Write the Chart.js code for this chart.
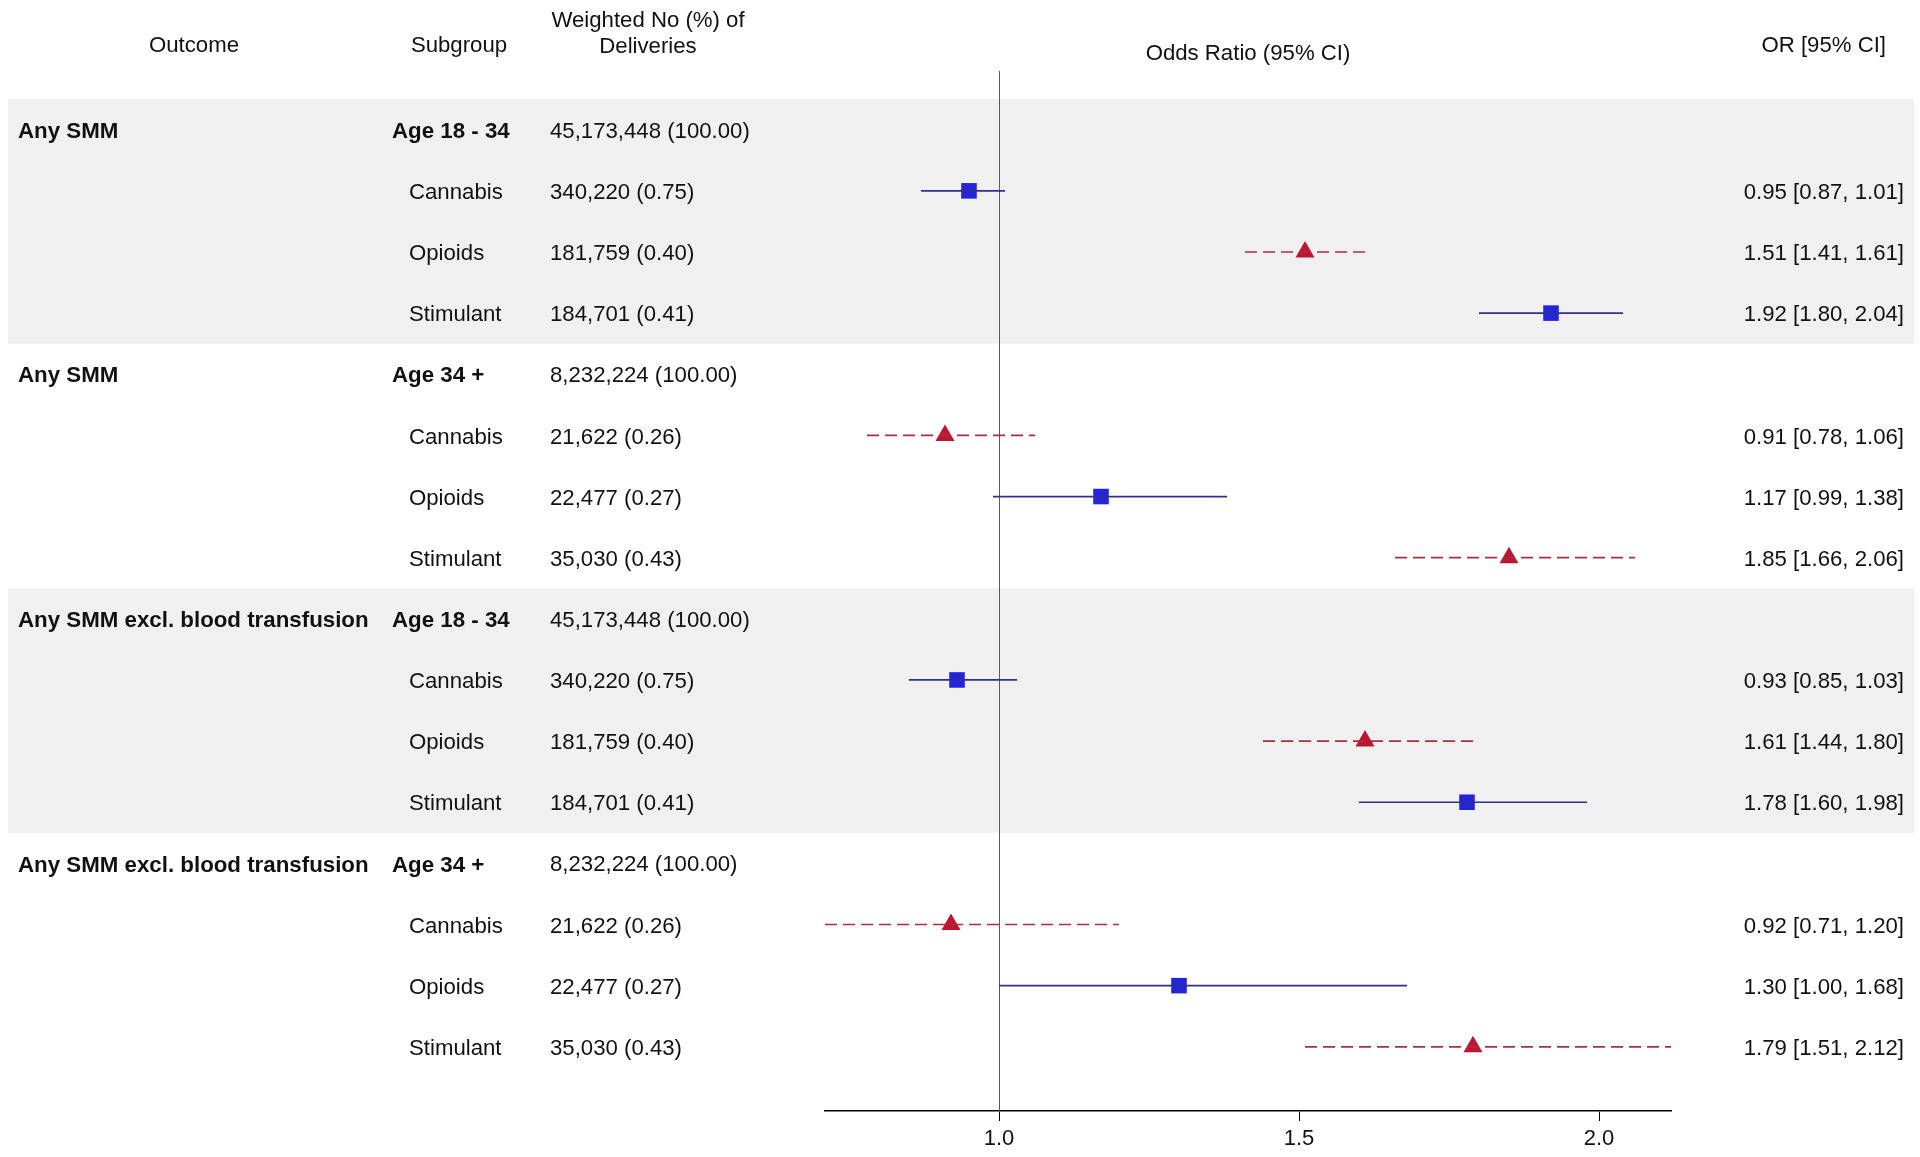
<!DOCTYPE html>
<html>
<head>
<meta charset="utf-8">
<script src="https://cdn.jsdelivr.net/npm/chart.js@4.4.1/dist/chart.umd.min.js"></script>
<style>
    html, body { margin: 0; padding: 0; background: #fff; }
    #wrap { width: 1920px; height: 1157px; position: relative; }
</style>
</head>
<body>
<div id="wrap"><canvas id="forestChart"></canvas></div>
<script>
"use strict";

// rows of the table, top to bottom
const outcomeLabels = [
    "Any SMM", "", "", "",
    "Any SMM", "", "", "",
    "Any SMM excl. blood transfusion", "", "", "",
    "Any SMM excl. blood transfusion", "", "", "",
];
const subgroupLabels = [
    "Age 18 - 34", "Cannabis", "Opioids", "Stimulant",
    "Age 34 +", "Cannabis", "Opioids", "Stimulant",
    "Age 18 - 34", "Cannabis", "Opioids", "Stimulant",
    "Age 34 +", "Cannabis", "Opioids", "Stimulant",
];
const deliveries = [
    "45,173,448 (100.00)", "340,220 (0.75)", "181,759 (0.40)", "184,701 (0.41)",
    "8,232,224 (100.00)", "21,622 (0.26)", "22,477 (0.27)", "35,030 (0.43)",
    "45,173,448 (100.00)", "340,220 (0.75)", "181,759 (0.40)", "184,701 (0.41)",
    "8,232,224 (100.00)", "21,622 (0.26)", "22,477 (0.27)", "35,030 (0.43)",
];
const oddsRatio = [null, 0.95, 1.51, 1.92, null, 0.91, 1.17, 1.85, null, 0.93, 1.61, 1.78, null, 0.92, 1.30, 1.79];
const ciLower = [null, 0.87, 1.41, 1.80, null, 0.78, 0.99, 1.66, null, 0.85, 1.44, 1.60, null, 0.71, 1.00, 1.51];
const ciUpper = [null, 1.01, 1.61, 2.04, null, 1.06, 1.38, 2.06, null, 1.03, 1.80, 1.98, null, 1.20, 1.68, 2.12];
const markerType = ["", "square", "triangle", "square", "", "triangle", "square", "triangle",
    "", "square", "triangle", "square", "", "triangle", "square", "triangle"];
const shadedRows = [[1, 4], [9, 12]];
const xTicks = [1.0, 1.5, 2.0];

const colors = {
    square: "#2424dc",
    squareLine: "#30308a",
    triangle: "#be1530",
    triangleLine: "#a8303e",
    band: "#f0f0f0",
    text: "#111111",
    refLine: "#5a5a5a",
};

const fontReg = "22.2px 'Liberation Sans', Arial, sans-serif";
const fontBold = "bold 22.3px 'Liberation Sans', Arial, sans-serif";

// whiskers: one line dataset per marker type, gaps split the segments
function ciData(type) {
    const out = [];
    oddsRatio.forEach((v, i) => {
        if (v === null || markerType[i] !== type) return;
        out.push({ x: ciLower[i], y: i + 1 });
        out.push({ x: ciUpper[i], y: i + 1 });
        out.push({ x: ciUpper[i], y: null });
    });
    return out;
}
function pointData(type) {
    const out = [];
    oddsRatio.forEach((v, i) => {
        if (v !== null && markerType[i] === type) out.push({ x: v, y: i + 1 });
    });
    return out;
}

const tablePlugin = {
    id: "tablePlugin",
    beforeDraw(chart) {
        const ctx = chart.ctx;
        const y = chart.scales.y;
        ctx.save();
        ctx.fillStyle = colors.band;
        shadedRows.forEach(([a, b]) => {
            const top = y.getPixelForValue(a - 0.5);
            const bot = y.getPixelForValue(b + 0.5);
            ctx.fillRect(8, top, 1906, bot - top);
        });
        ctx.restore();
    },
    beforeDatasetsDraw(chart) {
        const ctx = chart.ctx;
        const x = chart.scales.x;
        const area = chart.chartArea;
        ctx.save();
        ctx.strokeStyle = colors.refLine;
        ctx.lineWidth = 1;
        const px = Math.round(x.getPixelForValue(1)) + 0.5;
        ctx.beginPath();
        ctx.moveTo(px, area.top);
        ctx.lineTo(px, area.bottom);
        ctx.stroke();
        ctx.restore();
    },
    afterDraw(chart) {
        const ctx = chart.ctx;
        const y = chart.scales.y;
        const area = chart.chartArea;
        ctx.save();
        ctx.fillStyle = colors.text;
        ctx.textBaseline = "middle";

        // column headers
        ctx.font = fontReg;
        ctx.textAlign = "center";
        ctx.fillText("Outcome", 194, 46);
        ctx.fillText("Subgroup", 459, 46);
        ctx.fillText("Weighted No (%) of", 648, 21);
        ctx.fillText("Deliveries", 648, 47);
        ctx.fillText("Odds Ratio (95% CI)", (area.left + area.right) / 2, 54);
        ctx.textAlign = "right";
        ctx.fillText("OR [95% CI]", 1886, 46);

        for (let i = 0; i < subgroupLabels.length; i++) {
            const py = y.getPixelForValue(i + 1) + 2;
            const isHead = outcomeLabels[i] !== "";
            ctx.textAlign = "left";
            if (isHead) {
                ctx.font = fontBold;
                ctx.fillText(outcomeLabels[i], 18, py);
                ctx.fillText(subgroupLabels[i], 392, py);
            } else {
                ctx.font = fontReg;
                ctx.fillText(subgroupLabels[i], 409, py);
            }
            ctx.font = fontReg;
            ctx.fillText(deliveries[i], 550, py);
            if (oddsRatio[i] !== null) {
                ctx.textAlign = "right";
                const txt = oddsRatio[i].toFixed(2) + " [" + ciLower[i].toFixed(2) + ", " + ciUpper[i].toFixed(2) + "]";
                ctx.fillText(txt, 1904, py);
            }
        }
        ctx.restore();
    },
};

const ctx = document.getElementById("forestChart").getContext("2d");
const forestChart = new Chart(ctx, {
    type: "line",
    data: {
        datasets: [
            {
                data: ciData("square"),
                borderColor: colors.squareLine,
                borderWidth: 1.7,
                pointRadius: 0,
                spanGaps: false,
                fill: false,
            },
            {
                data: ciData("triangle"),
                borderColor: colors.triangleLine,
                borderWidth: 1.7,
                borderDash: [12, 6],
                pointRadius: 0,
                spanGaps: false,
                fill: false,
            },
            {
                data: pointData("square"),
                showLine: false,
                pointStyle: "rect",
                pointRadius: 11,
                pointBackgroundColor: colors.square,
                pointBorderColor: colors.square,
                pointBorderWidth: 0,
            },
            {
                data: pointData("triangle"),
                showLine: false,
                pointStyle: "triangle",
                pointRadius: 11,
                pointBackgroundColor: colors.triangle,
                pointBorderColor: colors.triangle,
                pointBorderWidth: 0,
            },
        ],
    },
    options: {
        responsive: true,
        maintainAspectRatio: false,
        animation: false,
        events: [],
        layout: { padding: { left: 825, right: 249, top: 71, bottom: 0 } },
        plugins: {
            legend: { display: false },
            tooltip: { enabled: false },
        },
        scales: {
            x: {
                type: "linear",
                min: 0.71,
                max: 2.12,
                afterBuildTicks(scale) {
                    scale.ticks = xTicks.map((v) => ({ value: v }));
                },
                grid: {
                    display: true,
                    drawOnChartArea: false,
                    drawTicks: true,
                    tickLength: 10,
                    color: "#000",
                    lineWidth: 1,
                },
                border: { display: true, color: "#000", width: 1.6 },
                ticks: {
                    color: colors.text,
                    padding: 7,
                    font: { family: "'Liberation Sans', Arial, sans-serif", size: 22, lineHeight: 1.0 },
                    callback: (v) => Number(v).toFixed(1),
                    maxRotation: 0,
                },
            },
            y: {
                type: "linear",
                reverse: true,
                min: 0.04,
                max: 17.05,
                display: false,
            },
        },
    },
    plugins: [tablePlugin],
});
</script>
</body>
</html>
